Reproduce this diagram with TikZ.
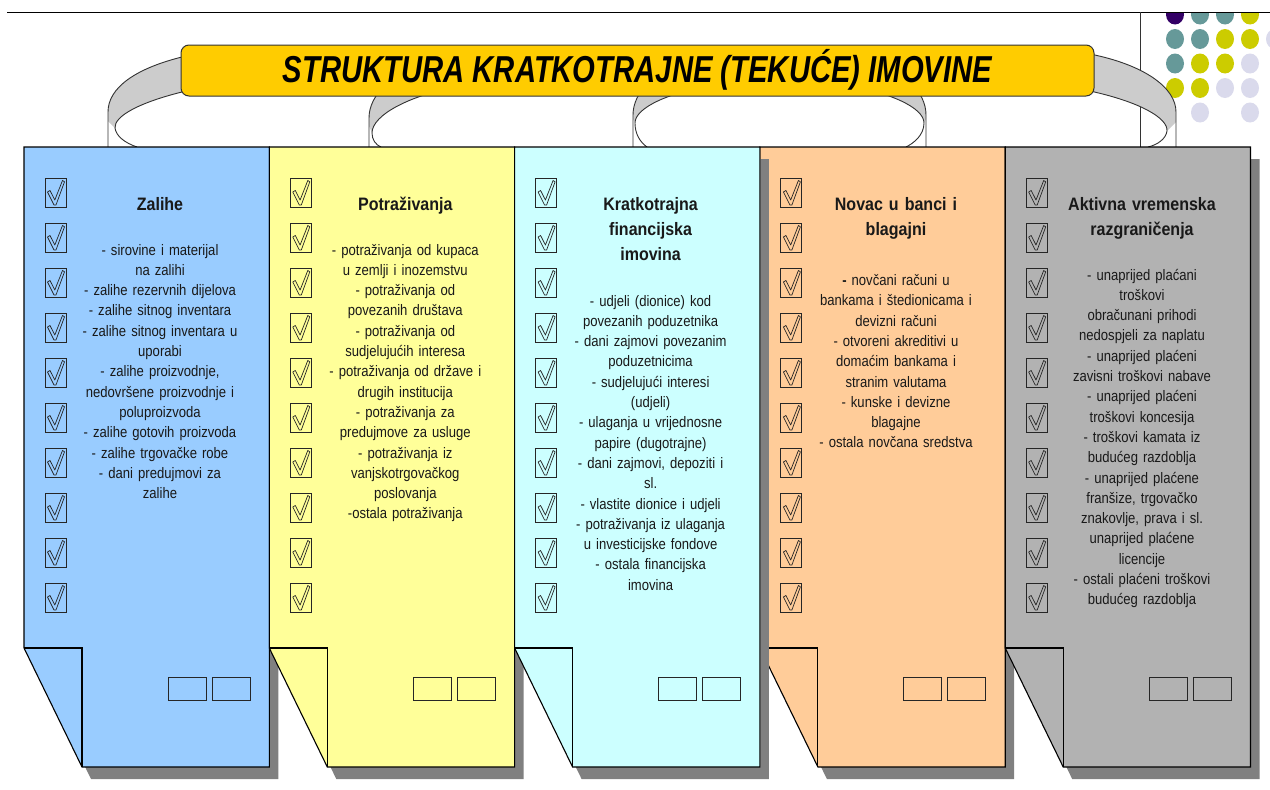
\documentclass[tikz,border=0pt]{standalone}
\usepackage{fontspec}
\setmainfont{Liberation Sans}
\newfontfamily\bodyfont{Liberation Sans}[FakeStretch=0.86]
\newfontfamily\headfont{Liberation Sans}[FakeStretch=0.89]
\newfontfamily\titlefont{Liberation Sans}[FakeStretch=0.78]
\definecolor{cBlue}{HTML}{99CCFF}
\definecolor{cYel}{HTML}{FFFF99}
\definecolor{cCyan}{HTML}{CCFFFF}
\definecolor{cOrange}{HTML}{FFCC99}
\definecolor{cGray}{HTML}{B2B2B2}
\definecolor{cShadow}{HTML}{808080}
\definecolor{cTitle}{HTML}{FFCC00}
\definecolor{cLoop}{HTML}{CCCCCC}
\definecolor{dPurple}{HTML}{330066}
\definecolor{dTeal}{HTML}{669999}
\definecolor{dYellow}{HTML}{CCCC00}
\definecolor{dLav}{HTML}{DADAEC}
\tikzset{
 pageline/.style={draw=black, line width=1.1pt},
 boxline/.style={draw=black!85, line width=0.9pt},
 loopline/.style={draw=black!80, line width=0.9pt},
 headtxt/.style={anchor=base, text width=230pt, align=center, inner sep=0pt, text=black!90,
   font=\headfont\bfseries\fontsize{18}{25}\selectfont},
 bodytxt/.style={anchor=base, text width=236pt, align=center, inner sep=0pt, text=black!90,
   font=\bodyfont\fontsize{15.2}{20.3}\selectfont},
 chk/.pic={
   \draw[boxline] (0,0) rectangle (21,29);
   \draw[line width=0.7pt, black!85, line join=round]
     (2.5,14) -- (5,12.5) -- (9.8,22) -- (17.5,2.5) -- (19.5,3.8) -- (11,27) -- (9,27) -- cycle;
 },
 dot/.style={x radius=9, y radius=10}
}
\newcommand\drawcol[2]{%
 \begin{scope}[xshift=#1]
  \fill[cShadow, shift={(9,12)}] (0,147) -- (245.3,147) -- (245.3,767) -- (58,767) -- (0,648) -- cycle;
  \filldraw[fill=#2, pageline] (0,147) -- (245.3,147) -- (245.3,767) -- (58,767) -- (0,648) -- cycle;
  \draw[pageline] (0,648) -- (58,648) -- (58,767);
  \draw[boxline] (144,677) rectangle (182,700);
  \draw[boxline] (188,677) rectangle (226,700);
  \foreach \k in {0,...,9} { \pic at (21,178+45*\k) {chk}; }
 \end{scope}}
\begin{document}
\begin{tikzpicture}[x=1pt,y=-1pt]
\useasboundingbox (0,0) rectangle (1270,790);
\fill[white] (0,0) rectangle (1270,790);

% decorative dots
\begin{scope}
 \clip (1140,12) rectangle (1270,140);
 \fill[dPurple] (1175,14.5) ellipse[dot];
 \fill[dTeal] (1200,14.5) ellipse[dot];
 \fill[dTeal] (1225,14.5) ellipse[dot];
 \fill[dYellow] (1250,14.5) ellipse[dot];
 \fill[dTeal] (1175,39) ellipse[dot];
 \fill[dTeal] (1200,39) ellipse[dot];
 \fill[dYellow] (1225,39) ellipse[dot];
 \fill[dYellow] (1250,39) ellipse[dot];
 \fill[dLav] (1275,39) ellipse[dot];
 \fill[dTeal] (1175,63.5) ellipse[dot];
 \fill[dYellow] (1200,63.5) ellipse[dot];
 \fill[dYellow] (1225,63.5) ellipse[dot];
 \fill[dLav] (1250,63.5) ellipse[dot];
 \fill[dYellow] (1175,88) ellipse[dot];
 \fill[dYellow] (1200,88) ellipse[dot];
 \fill[dLav] (1225,88) ellipse[dot];
 \fill[dLav] (1250,88) ellipse[dot];
 \fill[dLav] (1200,112.5) ellipse[dot];
 \fill[dLav] (1250,112.5) ellipse[dot];
\end{scope}

\coordinate (lineA) at (7,12);
\coordinate (lineB) at (1270,12);
\coordinate (vlA) at (1140,12);
\coordinate (vlB) at (1140,147);
\draw[line width=1pt, black] (lineA) -- (lineB);
\draw[line width=0.7pt, black!80] (vlA) -- (vlB);

% loops
\fill[cLoop] (186,56) .. controls (135,68) and (108,88) .. (108,112) -- (108,121) -- (115,128) .. controls (114,116) and (140,102) .. (186,91) -- cycle;
\draw[loopline] (186,56) .. controls (135,68) and (108,88) .. (108,112) -- (108,147);
\draw[loopline] (186,91) .. controls (140,102) and (114,116) .. (115,128) .. controls (116,136) and (125,143) .. (137,147);

\fill[cLoop] (430,62) .. controls (392,72) and (369,95) .. (369,118) -- (369,126) -- (372,133) .. controls (372,115) and (410,94) .. (470,84) -- cycle;
\draw[loopline] (430,62) .. controls (392,72) and (369,95) .. (369,118) -- (369,147);
\draw[loopline] (470,84) .. controls (410,94) and (372,115) .. (372,133) .. controls (372,140) and (376,145) .. (381,147);

\fill[cLoop] (690,62) .. controls (655,70) and (633,92) .. (633,115) -- (633,119) -- (635,123) .. controls (635,108) and (668,92) .. (720,84) -- cycle;
\draw[loopline] (690,62) .. controls (655,70) and (633,92) .. (633,115) -- (633,147);
\draw[loopline] (720,84) .. controls (668,92) and (635,108) .. (635,123) .. controls (635,134) and (640,142) .. (647,147);

\fill[cLoop] (869,62) .. controls (904,70) and (926,92) .. (926,115) -- (926,119) -- (924,123) .. controls (924,108) and (891,92) .. (839,84) -- cycle;
\draw[loopline] (869,62) .. controls (904,70) and (926,92) .. (926,115) -- (926,147);
\draw[loopline] (839,84) .. controls (891,92) and (924,108) .. (924,123) .. controls (924,135) and (914,143) .. (906,147);

\fill[cLoop] (1090,54) .. controls (1145,65) and (1176,88) .. (1176,112) -- (1176,122) -- (1167,131) .. controls (1168,118) and (1140,102) .. (1090,91) -- cycle;
\draw[loopline] (1090,54) .. controls (1145,65) and (1176,88) .. (1176,112) -- (1176,147);
\draw[loopline] (1090,91) .. controls (1140,102) and (1168,118) .. (1167,131) .. controls (1166,139) and (1157,145) .. (1148,147);

% title
\node[draw=black!80, line width=1pt, rounded corners=8pt, fill=cTitle, minimum width=913pt, minimum height=51pt, inner sep=0pt] (tbox) at (637.5,70.5) {};
\node[anchor=base, inner sep=0pt, font=\titlefont\bfseries\itshape\fontsize{37.5}{40}\selectfont] (title) at (637.5,82) {STRUKTURA KRATKOTRAJNE (TEKUĆE) IMOVINE};

% columns
\drawcol{24}{cBlue}
\drawcol{269.3}{cYel}
\drawcol{759.9}{cOrange}
\drawcol{514.6}{cCyan}
\drawcol{1005.2}{cGray}

% texts
\node[headtxt] (h1) at (160,210) {Zalihe};
\node[bodytxt] (b1) at (160,255) {- sirovine i materijal\\na zalihi\\- zalihe rezervnih dijelova\\- zalihe sitnog inventara\\- zalihe sitnog inventara u\\uporabi\\- zalihe proizvodnje,\\nedovršene proizvodnje i\\poluproizvoda\\- zalihe gotovih proizvoda\\- zalihe trgovačke robe\\- dani predujmovi za\\zalihe};

\node[headtxt] (h2) at (405.3,210) {Potraživanja};
\node[bodytxt] (b2) at (405.3,255) {- potraživanja od kupaca\\u zemlji i inozemstvu\\- potraživanja od\\povezanih društava\\- potraživanja od\\sudjelujućih interesa\\- potraživanja od države i\\drugih institucija\\- potraživanja za\\predujmove za usluge\\- potraživanja iz\\vanjskotrgovačkog\\poslovanja\\-ostala potraživanja};

\node[headtxt] (h3) at (650.6,210) {Kratkotrajna\\financijska\\imovina};
\node[bodytxt] (b3) at (650.6,306) {- udjeli (dionice) kod\\povezanih poduzetnika\\- dani zajmovi povezanim\\poduzetnicima\\- sudjelujući interesi\\(udjeli)\\- ulaganja u vrijednosne\\papire (dugotrajne)\\- dani zajmovi, depoziti i\\sl.\\- vlastite dionice i udjeli\\- potraživanja iz ulaganja\\u investicijske fondove\\- ostala financijska\\imovina};

\node[headtxt] (h4) at (896,210) {Novac u banci i\\blagajni};
\node[bodytxt] (b4) at (896,285.5) {{\bfseries -} novčani računi u\\bankama i štedionicama i\\devizni računi\\- otvoreni akreditivi u\\domaćim bankama i\\stranim valutama\\- kunske i devizne\\blagajne\\- ostala novčana sredstva};

\node[headtxt] (h5) at (1142,210) {Aktivna vremenska\\razgraničenja};
\node[bodytxt] (b5) at (1142,280) {- unaprijed plaćani\\troškovi\\obračunani prihodi\\nedospjeli za naplatu\\- unaprijed plaćeni\\zavisni troškovi nabave\\- unaprijed plaćeni\\troškovi koncesija\\- troškovi kamata iz\\budućeg razdoblja\\- unaprijed plaćene\\franšize, trgovačko\\znakovlje, prava i sl.\\unaprijed plaćene\\licencije\\- ostali plaćeni troškovi\\budućeg razdoblja};
\end{tikzpicture}
\end{document}
